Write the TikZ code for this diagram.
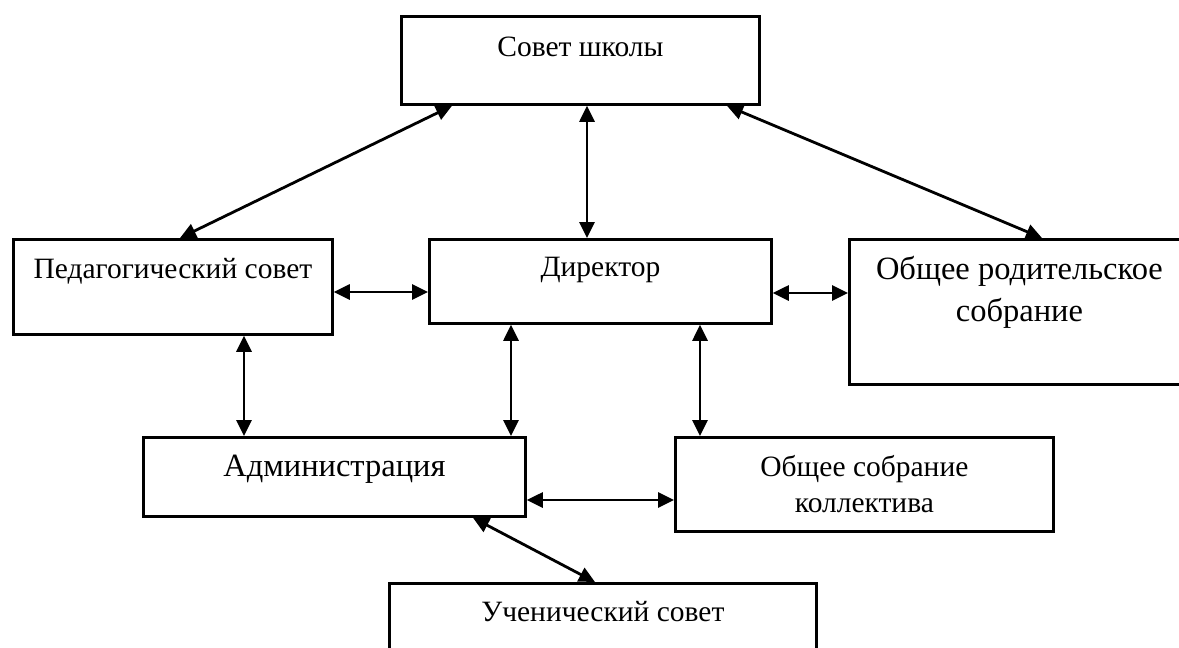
\documentclass[tikz,border=0pt]{standalone}
\usepackage{fontspec}
\setmainfont{Liberation Serif}
\usetikzlibrary{arrows.meta}

\begin{document}
\begin{tikzpicture}[x=1pt, y=-1pt, line width=2.8pt]
\tikzstyle{boxStyle}=[draw, rectangle, anchor=north west, inner sep=0pt, align=center, font=\fontsize{29.5}{36}\selectfont]
\tikzstyle{bigStyle}=[boxStyle, font=\fontsize{32.5}{42}\selectfont]
\tikzstyle{EdgeStyle}=[{Triangle[length=16pt,width=15pt]}-{Triangle[length=16pt,width=15pt]}]
\useasboundingbox (0,0) rectangle (1179,648);
\clip (0,0) rectangle (1179,648);
% boxes
\node[boxStyle, minimum width=358pt, text height=40pt, text depth=48pt] (sovet) at (400,15) {Совет школы};
\node[boxStyle, minimum width=319pt, text height=39pt, text depth=56pt] (pedsovet) at (12,238) {Педагогический совет};
\node[boxStyle, minimum width=342pt, text height=37pt, text depth=47pt] (direktor) at (428,238) {Директор};
\node[bigStyle, minimum width=340pt, text height=82pt, text depth=63pt] (roditeli) at (848,238) {Общее родительское\\собрание};
\node[bigStyle, minimum width=382pt, text height=39pt, text depth=40pt] (admin) at (142,436) {Администрация};
\node[boxStyle, minimum width=378pt, text height=75pt, text depth=19pt] (kollektiv) at (674,436) {Общее собрание\\коллектива};
\node[boxStyle, minimum width=427pt, text height=38pt, text depth=45pt] (ucheniki) at (388,582) {Ученический совет};
% links
\draw[EdgeStyle] ([xshift=52pt]sovet.south west) -- ([xshift=168pt]pedsovet.north west);
\draw[EdgeStyle] ([xshift=187pt]sovet.south west) -- ([xshift=159pt]direktor.north west);
\draw[EdgeStyle] ([xshift=327pt]sovet.south west) -- ([xshift=194pt]roditeli.north west);
\draw[EdgeStyle] ([yshift=-54pt]pedsovet.north east) -- ([yshift=-54pt]direktor.north west);
\draw[EdgeStyle] ([yshift=-55pt]direktor.north east) -- ([yshift=-55pt]roditeli.north west);
\draw[EdgeStyle] ([xshift=232pt]pedsovet.south west) -- ([xshift=102pt]admin.north west);
\draw[EdgeStyle] ([xshift=83pt]direktor.south west) -- ([xshift=369pt]admin.north west);
\draw[EdgeStyle] ([xshift=272pt]direktor.south west) -- ([xshift=26pt]kollektiv.north west);
\draw[EdgeStyle] ([yshift=-64pt]admin.north east) -- ([yshift=-64pt]kollektiv.north west);
\draw[EdgeStyle] ([xshift=331pt]admin.south west) -- ([xshift=207pt]ucheniki.north west);
\end{tikzpicture}
\end{document}
